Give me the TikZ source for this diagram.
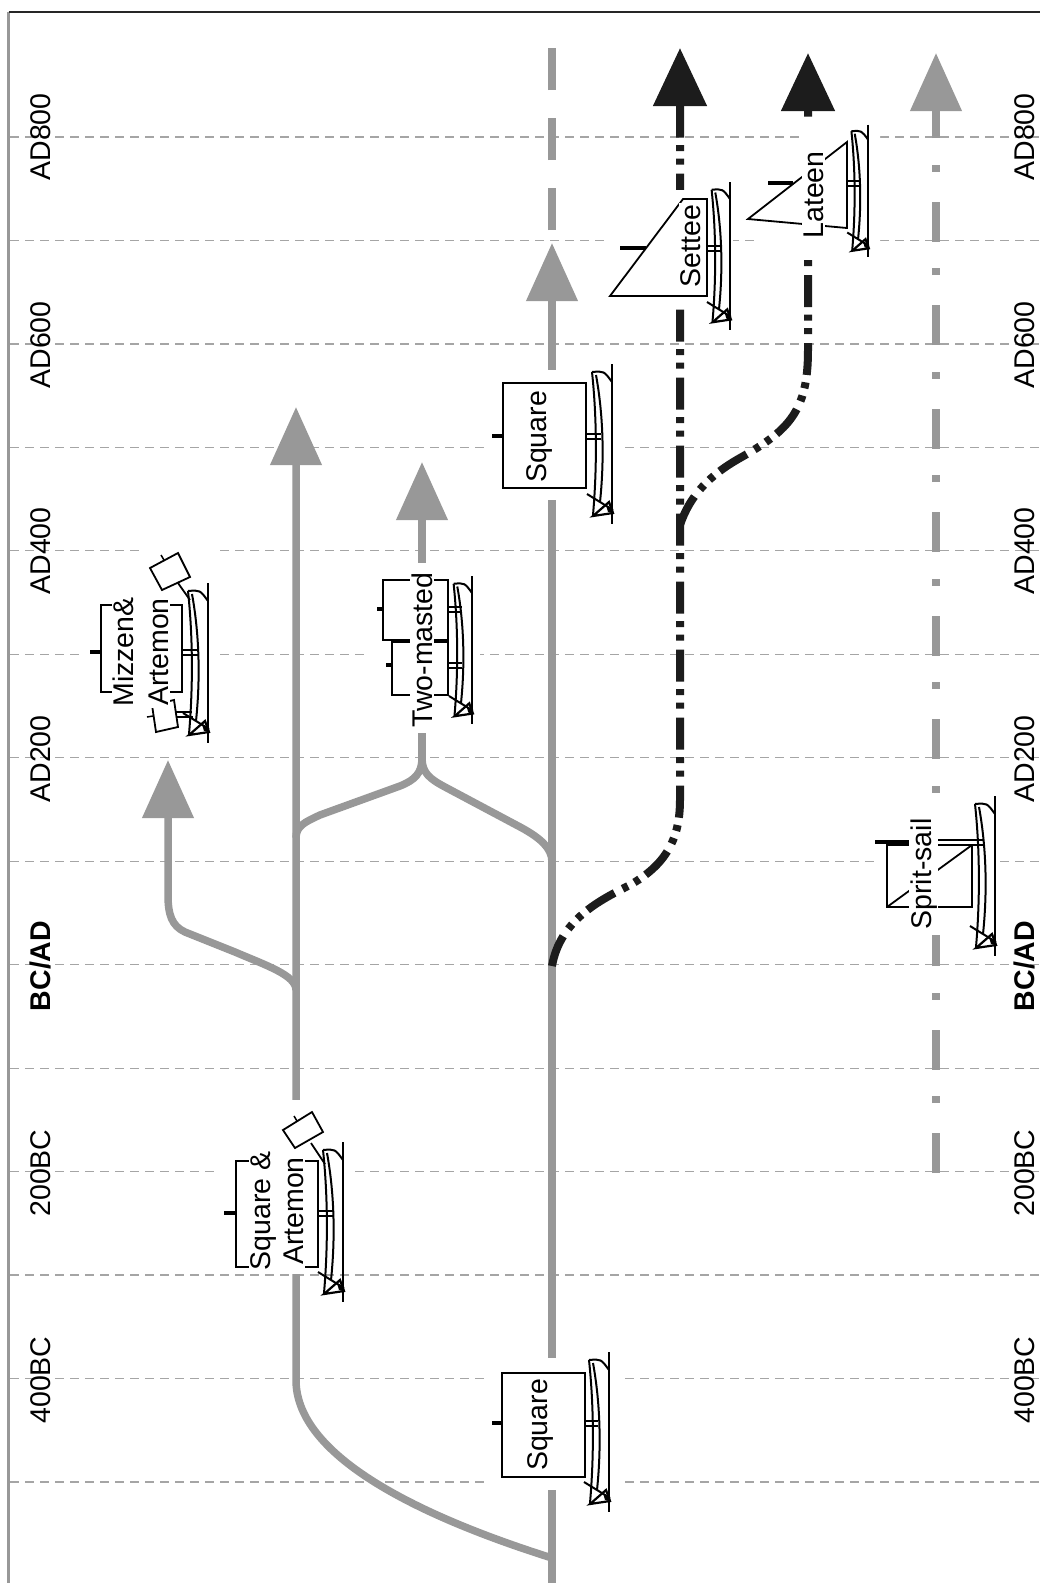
\documentclass[tikz,border=0pt]{standalone}
\usepackage{fontspec}
\setmainfont{Liberation Sans}
\usepackage{tikz}
\usetikzlibrary{arrows.meta}

\definecolor{lingray}{RGB}{152,152,152}
\definecolor{gridgray}{RGB}{165,165,165}
\definecolor{inkblack}{RGB}{28,28,28}

\tikzset{
  hull/.pic={
    \draw[line width=2.5pt] (0,-80) -- (0,80);
    \draw[line width=2pt] (-20,-72) .. controls (-15,-25) and (-15,25) .. (-19,71);
    \draw[line width=2pt] (-16,-69) .. controls (-8,-25) and (-8,20) .. (-12,58);
    \draw[line width=2pt] (-20,-72) .. controls (-8,-73) .. (0,-62);
    \draw[line width=2pt] (-25,50) -- (1,66);
    \draw[line width=2.2pt] (-19,72) -- (-3,58) -- (1,69) -- cycle;
    \fill (-6,61) -- (1,66) -- (1,69) -- (-4,68) -- cycle;
  }
}

\begin{document}
\begin{tikzpicture}[x=1pt,y=-1pt,
  gridline/.style={gridgray, line width=1.2pt, dash pattern=on 9pt off 6pt},
  grayline/.style={lingray, line width=7.5pt},
  darkline/.style={inkblack, line width=8pt, dash pattern=on 32pt off 9pt on 6pt off 7.5pt on 6pt off 7.5pt},
  grayarrow/.style={-{Triangle[width=50pt,length=58pt]}},
  darkarrow/.style={-{Triangle[width=52pt,length=58pt]}},
  sail/.style={draw=black, line width=1.8pt},
  shipbg/.style={fill=white},
  lbl/.style={font=\fontsize{28.5}{31}\selectfont, rotate=90, inner sep=0pt},
  tag/.style={lbl, fill=white, inner sep=1.5pt, align=center}]
  \useasboundingbox[fill=white] (0,0) rectangle (1040,1583);

  % time grid
  \foreach \k in {0,...,13}
    \draw[gridline] (10,{137+103.46*\k}) -- (1040,{137+103.46*\k});
  \foreach \yr/\yy in {AD800/137,AD600/345,AD400/551,AD200/759,200BC/1173,400BC/1380} {
    \node[lbl, anchor=base] (l\yr) at (50,\yy) {\yr};
    \node[lbl, anchor=base] (r\yr) at (1034,\yy) {\yr};
  }
  \node[lbl, anchor=base, font=\fontsize{28.5}{31}\selectfont\bfseries] (lbcad) at (50,966) {BC/AD};
  \node[lbl, anchor=base, font=\fontsize{28.5}{31}\selectfont\bfseries] (rbcad) at (1034,966) {BC/AD};

  % end points of the lineages
  \coordinate (sqBot) at (552,1583);
  \coordinate (sqTip) at (552,243);
  \coordinate (sqDash) at (552,230);
  \coordinate (sqTop) at (552,48);
  \coordinate (artFork) at (552,1558);
  \coordinate (artTip) at (296,407);
  \coordinate (mizFork) at (296,990);
  \coordinate (mizTip) at (168,760);
  \coordinate (twoL) at (296,838);
  \coordinate (twoR) at (552,862);
  \coordinate (twoJoin) at (422,758);
  \coordinate (twoTip) at (422,462);
  \coordinate (setFork) at (552,966);
  \coordinate (setTip) at (680,48);
  \coordinate (latFork) at (680,525);
  \coordinate (latTip) at (808,53);
  \coordinate (spritBot) at (936,1173);
  \coordinate (spritTip) at (936,53);

  % lineages
  \draw[grayline, grayarrow] (sqBot) -- (sqTip);
  \draw[grayline, dash pattern=on 42pt off 28pt] (sqDash) -- (sqTop);
  \draw[grayline, grayarrow] (artFork) .. controls (400,1510) and (296,1450) .. (296,1380) -- (artTip);
  \draw[grayline, grayarrow] (mizFork) .. controls (296,975) and (265,965) .. (235,952) -- (185,932)
    .. controls (172,926) and (168,915) .. (168,895) -- (mizTip);
  \draw[grayline] (twoL) .. controls (296,826) and (305,822) .. (320,815) -- (400,786)
    .. controls (415,780) and (422,773) .. (twoJoin);
  \draw[grayline] (twoR) .. controls (552,848) and (540,838) .. (522,828) -- (445,787)
    .. controls (430,779) and (422,773) .. (twoJoin);
  \draw[grayline, grayarrow] (twoJoin) -- (twoTip);
  \draw[darkline, darkarrow] (setFork) .. controls (560,920) and (600,900) .. (630,885)
    .. controls (665,865) and (680,840) .. (680,800) -- (setTip);
  \draw[darkline, darkarrow] (latFork) .. controls (690,495) and (710,475) .. (740,458)
    .. controls (790,430) and (808,410) .. (808,350) -- (latTip);
  \draw[grayline, dash pattern=on 40pt off 30pt on 7pt off 26.5pt, grayarrow] (spritBot) -- (spritTip);

  % Square (400BC)
  \fill[shipbg] (488,1358) rectangle (620,1490);
  \draw[sail] (502,1373) rectangle (585,1477);
  \draw[line width=3.5pt] (492,1423) -- (502,1423);
  \draw[line width=1.2pt] (585,1421) -- (598,1421) (585,1426) -- (598,1426);
  \pic at (609,1432) {hull};
  \node[tag, anchor=base] (sqLow) at (547,1425) {Square};

  % Square (AD500)
  \fill[shipbg] (488,370) rectangle (620,500);
  \draw[sail] (503,383) rectangle (586,488);
  \draw[line width=3.5pt] (492,436) -- (503,436);
  \draw[line width=1.2pt] (586,434) -- (601,434) (586,439) -- (601,439);
  \pic at (612,444) {hull};
  \node[tag, anchor=base] (sqUp) at (546,437) {Square};

  % Square & Artemon
  \fill[shipbg] (217,1100) rectangle (350,1274);
  \draw[sail] (236,1161) rectangle (318,1267);
  \draw[line width=3.5pt] (224,1213) -- (236,1213);
  \draw[line width=1.2pt] (318,1211) -- (333,1211) (318,1216) -- (333,1216);
  \draw[sail] (283,1130) -- (312,1112) -- (323,1132) -- (295,1148) -- cycle;
  \draw[line width=1.5pt] (297,1121) -- (294,1116);
  \draw[line width=1.8pt] (311,1143) -- (325,1164);
  \pic at (343,1222) {hull};
  \node[tag, font=\fontsize{28.5}{33}\selectfont] (sqArt) at (277,1211) {Square \&\\Artemon};

  % Mizzen & Artemon
  \fill[shipbg] (85,745) -- (85,590) -- (143,590) -- (143,545) -- (217,545) -- (217,745) -- cycle;
  \draw[sail] (101,605) rectangle (182,692);
  \draw[line width=3.5pt] (90,652) -- (101,652);
  \draw[line width=1.2pt] (182,650) -- (198,650) (182,655) -- (198,655);
  \draw[sail] (150,568) -- (178,553) -- (190,577) -- (162,590) -- cycle;
  \draw[line width=1.5pt] (164,560) -- (161,555);
  \draw[line width=1.8pt] (178,583) -- (190,600);
  \draw[sail] (152,705) -- (174,700) -- (178,727) -- (156,732) -- cycle;
  \draw[line width=1.5pt] (147,717) -- (153,716);
  \draw[line width=1.2pt] (176,712) -- (192,712) (177,717) -- (193,717);
  \pic at (208,663) {hull};
  \node[tag, font=\fontsize{28.5}{35}\selectfont] (mizArt) at (141,652) {Mizzen\&\\Artemon};

  % Two-masted
  \fill[shipbg] (370,563) rectangle (480,733);
  \draw[sail] (383,580) rectangle (448,640);
  \draw[sail] (392,642) rectangle (448,695);
  \draw[line width=3.5pt] (377,609) -- (383,609) (386,665) -- (392,665);
  \draw[line width=1.2pt] (448,607) -- (462,607) (448,612) -- (462,612)
    (448,663) -- (462,663) (448,668) -- (462,668);
  \pic[scale=0.92] at (472,650) {hull};
  \node[tag, anchor=base] (twoM) at (432,650) {Two-masted};

  % Settee
  \fill[shipbg] (607,190) rectangle (733,305);
  \draw[sail] (610,296) -- (683,199) -- (707,199) -- (707,296) -- cycle;
  \draw[line width=3.5pt] (620,248) -- (646,248);
  \draw[line width=1.2pt] (707,246) -- (720,246) (707,251) -- (720,251);
  \pic[scale=0.92] at (730,256) {hull};
  \node[tag, anchor=base] (settee) at (700,246) {Settee};

  % Lateen
  \fill[shipbg] (757,255) -- (757,139) -- (803,139) -- (803,122) -- (880,122) -- (880,262) -- cycle;
  \draw[sail] (748,219) -- (847,142) -- (847,228) -- cycle;
  \draw[line width=3.5pt] (768,183) -- (793,183);
  \draw[line width=1.2pt] (847,181) -- (859,181) (847,186) -- (859,186);
  \pic[scale=0.83] at (868,191) {hull};
  \node[tag, anchor=base] (lateen) at (823,195) {Lateen};

  % Sprit-sail
  \fill[shipbg] (877,800) rectangle (1000,935);
  \draw[sail] (887,845) rectangle (972,907);
  \draw[line width=1.8pt] (887,907) -- (972,845);
  \draw[line width=3.5pt] (875,842) -- (935,842);
  \draw[line width=1.2pt] (935,840) -- (984,840) (935,845) -- (984,845);
  \pic at (995,876) {hull};
  \node[tag, anchor=base] (sprit) at (931,874) {Sprit-sail};

  % frame
  \draw[lingray, line width=3pt] (8.5,12) -- (8.5,1583);
  \draw[black!85, line width=1.5pt] (8.5,12) -- (1040,12);
\end{tikzpicture}
\end{document}
